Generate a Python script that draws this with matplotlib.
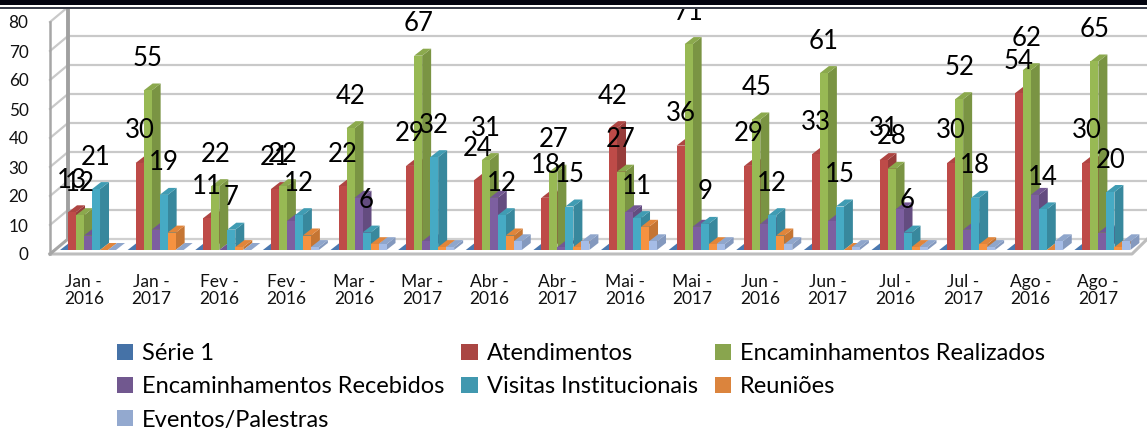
import matplotlib
matplotlib.use("Agg")
import matplotlib.pyplot as plt
from matplotlib.patches import Patch, Rectangle

plt.rcParams['font.family'] = ['Lato', 'DejaVu Sans']

categories = ["Jan -\n2016", "Jan -\n2017", "Fev -\n2016", "Fev -\n2016", "Mar -\n2016", "Mar -\n2017",
              "Abr -\n2016", "Abr -\n2017", "Mai -\n2016", "Mai -\n2017", "Jun -\n2016", "Jun -\n2017",
              "Jul -\n2016", "Jul -\n2017", "Ago -\n2016", "Ago -\n2017"]
serie1 = [0] * 16
atendimentos = [13, 30, 11, 21, 22, 29, 24, 18, 42, 36, 29, 33, 31, 30, 54, 30]
enc_realizados = [12, 55, 22, 22, 42, 67, 31, 27, 27, 71, 45, 61, 28, 52, 62, 65]
enc_recebidos = [5, 7, 0, 10, 18, 3, 18, 1, 13, 8, 9, 10, 14, 7, 19, 6]
visitas = [21, 19, 7, 12, 6, 32, 12, 15, 11, 9, 12, 15, 6, 18, 14, 20]
reunioes = [0, 6, 1, 5, 2, 1, 5, 1, 8, 2, 5, 0, 1, 2, 0, 1]
eventos = [0, 0, 0, 1, 2, 1, 3, 3, 3, 2, 2, 1, 1, 1, 3, 3]

series = [
    ("Série 1", serie1, "#4F81BD", "#3F6797", "#4A78B0", "#4572A7", False),
    ("Atendimentos", atendimentos, "#BE4B48", "#973C3A", "#AE4542", "#AA4643", True),
    ("Encaminhamentos Realizados", enc_realizados, "#98B954", "#7A9443", "#8BA94D", "#89A54E", True),
    ("Encaminhamentos Recebidos", enc_recebidos, "#7D5FA0", "#644C80", "#725792", "#71588F", False),
    ("Visitas Institucionais", visitas, "#46AAC4", "#38889D", "#409CB3", "#4198AF", True),
    ("Reuniões", reunioes, "#F69240", "#C57533", "#E1853A", "#DB843D", False),
    ("Eventos/Palestras", eventos, "#A5BCE6", "#8499BE", "#8FA6CC", "#93A9CF", False),
]

W, H = 1147, 430
fig = plt.figure(figsize=(W / 100, H / 100), dpi=100)
L, R, B, T = 50, 1132, 254, 22
ax = fig.add_axes([L / W, 1 - B / H, (R - L) / W, (B - T) / H])
ax.set_xlim(-0.5, 15.5)
ax.set_ylim(0, 80)
PX = 16 / (R - L)
PY = 80 / (B - T)
for s in ax.spines.values():
    s.set_visible(False)

# walls, floor and gridlines
WDX, WDY = 18 * PX, 15 * PY
x0, x1 = -0.5, 15.5
grid = "#C9C9C9"
for v in range(10, 90, 10):
    ax.plot([x0, x0 + WDX, x1 + 30 * PX], [v, v + WDY, v + WDY], color=grid, lw=1.6, clip_on=False, zorder=1)
ax.plot([x0 + WDX, x1 + 30 * PX], [WDY, WDY], color="#D0D0D0", lw=1.6, clip_on=False, zorder=1)
ax.plot([x0, x0], [0, 80], color="#A6A6A6", lw=1.8, clip_on=False, zorder=2)
ax.plot([x0 + WDX, x0 + WDX], [WDY, 80 + WDY], color="#A0A0A0", lw=2.8, clip_on=False, zorder=2)
ax.plot([x0, x1, x1 + WDX * 0.85], [0, 0, WDY], color="#BDBDBD", lw=2.2, clip_on=False, zorder=2)
ax.plot([x0, x0 + WDX], [0, WDY], color="#A6A6A6", lw=2.2, clip_on=False, zorder=2)

# 3D-looking bars
BW = 8 * PX
DX, DY = 9 * PX, 7 * PY
BASE = 4 * PY
START = -23.8 * PX
z = 3.0
labels = []
for i in range(16):
    for j, (name, vals, front, side, top, leg, lab) in enumerate(series):
        v = vals[i]
        x = i + START + j * BW
        yt = BASE + v
        ax.fill([x + BW, x + BW + DX, x + BW + DX, x + BW],
                [BASE, BASE + DY, yt + DY, yt], color=side, lw=0, clip_on=False, zorder=z)
        ax.fill([x, x + DX, x + BW + DX, x + BW],
                [yt, yt + DY, yt + DY, yt], color=top, lw=0, clip_on=False, zorder=z + 0.1)
        ax.bar(x, v, width=BW, bottom=BASE, align="edge", color=front, lw=0, clip_on=False, zorder=z + 0.2)
        z += 0.3
        if lab:
            labels.append((x + BW / 2, v + BASE + 32 * PY, v))
for x, y, v in labels:
    ax.text(x, y, str(v), ha="center", va="center", fontsize=18.5, color="black", clip_on=False, zorder=500)

ax.set_xticks(range(16))
ax.set_xticklabels(categories, fontsize=12.5, linespacing=1.08, color="#111111")
ax.set_yticks(range(0, 90, 10))
ax.tick_params(axis="y", length=0, pad=15.5, labelsize=12.3, labelcolor="#111111")
ax.tick_params(axis="x", length=0, pad=14.5)
ax.patch.set_alpha(0)

# legend
order = [0, 3, 6, 1, 4, 2, 5]
handles = [Patch(facecolor=series[k][5], edgecolor="none", label=series[k][0]) for k in order]
fig.legend(handles=handles, ncols=3, loc="upper left", bbox_to_anchor=(110 / W, 1 - 336 / H),
           frameon=False, fontsize=17, handlelength=0.68, handleheight=0.68,
           handletextpad=0.38, columnspacing=0.72, labelspacing=0.52, borderpad=0.3, borderaxespad=0)

# top band of the picture
for y0, h, c in [(0, 5, "#02030F"), (5, 2, "#FFFFFF"), (7, 1.5, "#3A3E4C")]:
    fig.add_artist(Rectangle((0, 1 - (y0 + h) / H), 1, h / H, transform=fig.transFigure,
                             facecolor=c, edgecolor="none", zorder=10))

fig.savefig("out.png", dpi=100)
